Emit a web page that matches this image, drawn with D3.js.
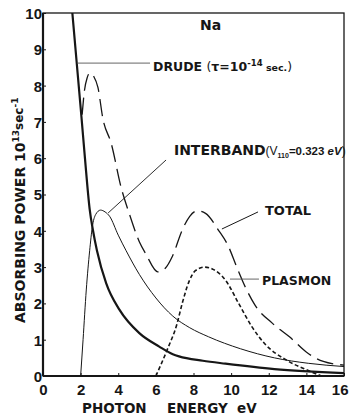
<!DOCTYPE html>
<html>
<head>
<meta charset="utf-8">
<script src="https://cdn.jsdelivr.net/npm/d3@7/dist/d3.min.js"></script>
<style>
  html, body { margin: 0; padding: 0; background: #fff; }
  svg { display: block; }
</style>
</head>
<body>
<div id="chart"></div>
<script>
// Absorbing power of Na vs photon energy
const energyTicks = [0, 2, 4, 6, 8, 10, 12, 14, 16];
const powerTicks = [0, 1, 2, 3, 4, 5, 6, 7, 8, 9, 10];

// [photon energy eV, absorbing power 10^13 sec^-1]
const drudeCurve = [
    [1.56, 10], [2.05, 7.1], [2.23, 6.0], [2.48, 4.6], [2.66, 4.0], [2.87, 3.45],
    [3.36, 2.55], [4.07, 1.82], [5.12, 1.18], [6.18, 0.81], [6.9, 0.6], [7.23, 0.54],
    [8.5, 0.42], [9.7, 0.34], [12.3, 0.19], [16, 0.08]
];
const interbandCurve = [
    [2.0, 0], [2.13, 1.0], [2.3, 2.37], [2.48, 3.45], [2.62, 4.1], [2.8, 4.45],
    [3.06, 4.57], [3.3, 4.52], [3.54, 4.4], [4.0, 3.88], [4.42, 3.45], [5.12, 2.8],
    [6.0, 2.15], [6.9, 1.65], [7.8, 1.33], [8.8, 1.08], [10.5, 0.75], [12.3, 0.5],
    [14.1, 0.35], [16, 0.26]
];
const totalCurve = [
    [2.08, 7.2], [2.2, 7.85], [2.35, 8.22], [2.5, 8.35], [2.7, 8.25], [2.92, 7.95],
    [3.18, 7.1], [3.63, 6.4], [4.15, 5.2], [4.6, 4.45], [5.12, 3.7], [5.48, 3.35],
    [6.1, 2.87], [6.5, 2.97], [6.88, 3.3], [7.4, 4.02], [7.8, 4.4], [8.2, 4.55],
    [8.64, 4.48], [9.35, 4.0], [9.83, 3.6], [10.3, 3.0], [10.8, 2.4], [11.27, 1.95],
    [12.2, 1.45], [13.1, 1.08], [14.1, 0.62], [14.9, 0.4], [16, 0.3]
];
const plasmonCurve = [
    [6.0, 0], [6.6, 0.72], [7.13, 1.45], [7.4, 2.0], [7.76, 2.6], [8.1, 2.9],
    [8.6, 3.0], [9.0, 2.95], [9.7, 2.64], [10.4, 2.0], [11.1, 1.36], [11.8, 0.88],
    [12.9, 0.45], [14.1, 0.15], [14.8, 0]
];

const width = 349, height = 416;
const plot = { left: 43, right: 344, top: 13, bottom: 376 };

const svg = d3.select('#chart').append('svg')
    .attr('width', width)
    .attr('height', height);

const x = d3.scaleLinear().domain([0, 16]).range([plot.left, plot.right]);
const y = d3.scaleLinear().domain([0, 10]).range([plot.bottom, plot.top]);

const ink = '#161616';
const boldFont = '"DejaVu Sans", sans-serif';
const tickFont = '"Liberation Sans", Arial, sans-serif';

svg.append('clipPath').attr('id', 'plotClip')
    .append('rect')
    .attr('x', plot.left).attr('y', plot.top)
    .attr('width', plot.right - plot.left).attr('height', plot.bottom - plot.top);

// Frame
svg.append('rect')
    .attr('x', plot.left).attr('y', plot.top)
    .attr('width', plot.right - plot.left).attr('height', plot.bottom - plot.top)
    .attr('fill', 'none').attr('stroke', ink).attr('stroke-width', 1.3);
svg.append('line')
    .attr('x1', plot.left).attr('x2', plot.left)
    .attr('y1', plot.top).attr('y2', plot.bottom)
    .attr('stroke', ink).attr('stroke-width', 2.2);
svg.append('line')
    .attr('x1', plot.left).attr('x2', plot.right)
    .attr('y1', plot.bottom).attr('y2', plot.bottom)
    .attr('stroke', ink).attr('stroke-width', 2);

// Axes with inward ticks
const xAxis = svg.append('g')
    .attr('transform', `translate(0,${plot.bottom})`)
    .call(d3.axisBottom(x).tickValues(energyTicks).tickSizeInner(-3).tickSizeOuter(0));
const yAxis = svg.append('g')
    .attr('transform', `translate(${plot.left},0)`)
    .call(d3.axisLeft(y).tickValues(powerTicks).tickSizeInner(-3).tickSizeOuter(0));

[xAxis, yAxis].forEach(ax => {
    ax.select('.domain').remove();
    ax.selectAll('.tick line').attr('stroke', ink).attr('stroke-width', 1);
    ax.selectAll('.tick text')
        .style('font-family', tickFont)
        .style('font-weight', 'bold')
        .style('font-size', '15px')
        .attr('fill', ink);
});
xAxis.selectAll('.tick text').attr('dy', null).attr('y', 19);
// last label sits at the page edge: keep it inside
xAxis.selectAll('.tick text').filter(d => d === 16).attr('text-anchor', 'end').attr('x', 4);
yAxis.selectAll('.tick text').attr('dy', '0.36em').attr('x', -1);

// Curves
const line = d3.line()
    .x(d => x(d[0]))
    .y(d => y(d[1]))
    .curve(d3.curveMonotoneX);

const curves = svg.append('g').attr('clip-path', 'url(#plotClip)');

curves.append('path').datum(drudeCurve)
    .attr('d', line).attr('fill', 'none')
    .attr('stroke', ink).attr('stroke-width', 2.2);

curves.append('path').datum(interbandCurve)
    .attr('d', line).attr('fill', 'none')
    .attr('stroke', ink).attr('stroke-width', 1);

curves.append('path').datum(totalCurve)
    .attr('d', line).attr('fill', 'none')
    .attr('stroke', ink).attr('stroke-width', 1.3)
    .attr('stroke-dasharray', '17,7');

curves.append('path').datum(plasmonCurve)
    .attr('d', line).attr('fill', 'none')
    .attr('stroke', ink).attr('stroke-width', 1.6)
    .attr('stroke-dasharray', '4,2.5');

// Leader lines (data coordinates)
const leaders = [
    { from: [1.82, 8.62], to: [5.69, 8.62], color: '#555', w: 0.9 },
    { from: [6.54, 5.95], to: [3.46, 4.49], color: ink, w: 0.9 },
    { from: [11.43, 4.52], to: [9.51, 4.05], color: ink, w: 1 },
    { from: [9.94, 2.67], to: [11.48, 2.67], color: '#555', w: 0.9 }
];
leaders.forEach(l => {
    svg.append('line')
        .attr('x1', x(l.from[0])).attr('y1', y(l.from[1]))
        .attr('x2', x(l.to[0])).attr('y2', y(l.to[1]))
        .attr('stroke', l.color).attr('stroke-width', l.w);
});

// Curve labels
const label = (ev, val, size) => svg.append('text')
    .attr('x', x(ev)).attr('y', y(val))
    .style('font-family', boldFont)
    .style('font-weight', 'bold')
    .style('font-size', size + 'px')
    .attr('fill', ink);

label(8.35, 9.53, 14).text('Na');

const drude = label(5.85, 8.39, 12.5);
drude.append('tspan').text('DRUDE ');
drude.append('tspan').style('font-weight', 'normal').text('(');
drude.append('tspan').text('τ=10');
drude.append('tspan').attr('dy', -5).style('font-size', '8.5px').text('-14');
drude.append('tspan').attr('dy', 5).style('font-size', '9.5px').text(' sec.');
drude.append('tspan').style('font-weight', 'normal').text(')');

const inter = label(6.96, 6.09, 14);
inter.append('tspan').text('INTERBAND');
inter.append('tspan').style('font-family', tickFont).style('font-size', '12px').style('font-weight', 'normal').text('(V');
inter.append('tspan').attr('dy', 3).style('font-family', tickFont).style('font-size', '7px').text('110');
inter.append('tspan').attr('dy', -3).style('font-family', tickFont).style('font-size', '11.5px').text('=0.323 ');
inter.append('tspan').style('font-family', tickFont).style('font-size', '11.5px').style('font-style', 'italic').text('eV');
inter.append('tspan').style('font-family', tickFont).style('font-size', '12px').style('font-weight', 'normal').text(')');

label(11.8, 4.44, 13).text('TOTAL');
label(11.64, 2.51, 12.5).text('PLASMON');

// Axis titles
const xTitle = svg.append('g')
    .style('font-family', boldFont)
    .style('font-weight', 'bold')
    .style('font-size', '13.5px')
    .attr('fill', ink);
[['PHOTON', 82], ['ENERGY', 167], ['eV', 237]].forEach(([t, px]) => {
    xTitle.append('text').attr('x', px).attr('y', 413).text(t);
});

const yTitle = svg.append('text')
    .attr('transform', 'translate(25,323) rotate(-90)')
    .style('font-family', boldFont)
    .style('font-weight', 'bold')
    .style('font-size', '14px')
    .attr('fill', ink);
yTitle.append('tspan').text('ABSORBING POWER 10');
yTitle.append('tspan').attr('dy', -6).style('font-size', '9px').text('13');
yTitle.append('tspan').attr('dy', 4).style('font-size', '12px').text('sec');
yTitle.append('tspan').attr('dy', -5).style('font-size', '9px').text('-1');
</script>
</body>
</html>
